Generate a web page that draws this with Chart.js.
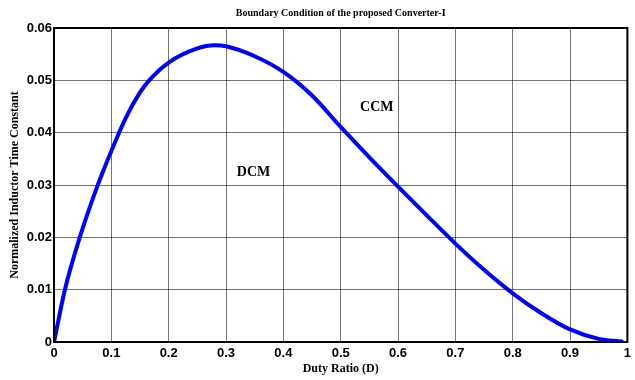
<!DOCTYPE html>
<html>
<head>
<meta charset="utf-8">
<script src="https://cdn.jsdelivr.net/npm/chart.js@4"></script>
<style>
  html, body { margin: 0; padding: 0; background: #fff; }
  #wrap { width: 635px; height: 380px; }
</style>
</head>
<body>
<div id="wrap"><canvas id="chart" width="635" height="380"></canvas></div>
<script>
// values
const dutyRatio = [0, 0.019, 0.045, 0.074, 0.1, 0.125, 0.15, 0.166, 0.2, 0.25, 0.28, 0.3, 0.35, 0.4, 0.45, 0.5,
    0.55, 0.6, 0.65, 0.7, 0.75, 0.8, 0.85, 0.9, 0.95, 0.99];
const timeConstant = [0, 0.010, 0.020, 0.0293, 0.0365, 0.0428, 0.0477, 0.0500, 0.0534, 0.0561, 0.0567, 0.0565, 0.0546, 0.0516, 0.0471, 0.0411,
    0.0353, 0.0297, 0.0242, 0.0188, 0.0138, 0.0093, 0.0055, 0.0024, 0.0006, 0.0001];
const regionLabels = ['DCM', 'CCM'];
const regionX = [0.348, 0.563];
const regionY = [0.0324, 0.0449];

const serif = "'Liberation Serif', 'Times New Roman', serif";
const sans = "'Liberation Sans', Arial, sans-serif";

// title, region labels and the box round the plot
const extrasPlugin = {
    id: 'extras',
    afterDraw(chart) {
        const { ctx, chartArea, scales } = chart;
        ctx.save();
        ctx.fillStyle = '#000';
        ctx.textAlign = 'center';
        ctx.textBaseline = 'middle';
        ctx.font = 'bold 10px ' + serif;
        ctx.fillText('Boundary Condition of the proposed Converter-I', (chartArea.left + chartArea.right) / 2, 13);

        ctx.font = 'bold 14px ' + serif;
        regionLabels.forEach((txt, i) => {
            ctx.fillText(txt, scales.x.getPixelForValue(regionX[i]), scales.y.getPixelForValue(regionY[i]));
        });

        ctx.strokeStyle = '#000';
        ctx.lineWidth = 2;
        ctx.strokeRect(chartArea.left, chartArea.top, chartArea.right - chartArea.left, chartArea.bottom - chartArea.top);
        ctx.restore();
    }
};

const gridStyle = {
    color: 'rgba(0,0,0,0.55)',
    lineWidth: 1,
    drawTicks: false
};

new Chart(document.getElementById('chart'), {
    type: 'line',
    data: {
        datasets: [{
            data: dutyRatio.map((d, i) => ({ x: d, y: timeConstant[i] })),
            borderColor: '#0000ff',
            borderWidth: 4,
            pointRadius: 0,
            fill: false,
            cubicInterpolationMode: 'monotone',
            borderCapStyle: 'round'
        }]
    },
    options: {
        responsive: false,
        animation: false,
        layout: { padding: { top: 28, right: 3, left: 0, bottom: 0 } },
        plugins: { legend: { display: false }, tooltip: { enabled: false } },
        scales: {
            x: {
                type: 'linear',
                min: 0,
                max: 1,
                grid: { ...gridStyle },
                border: { display: false },
                ticks: {
                    stepSize: 0.1,
                    padding: 4,
                    color: '#000',
                    font: { family: sans, size: 13, weight: 'bold' },
                    callback: v => String(parseFloat(v.toFixed(1)))
                },
                title: {
                    display: true,
                    text: 'Duty Ratio (D)',
                    color: '#000',
                    font: { family: serif, size: 12, weight: 'bold' },
                    padding: { top: 0, bottom: 4 }
                },
                afterFit: s => { s.height = 38; }
            },
            y: {
                min: 0,
                max: 0.06,
                grid: { ...gridStyle },
                border: { display: false },
                ticks: {
                    stepSize: 0.01,
                    padding: 2,
                    color: '#000',
                    font: { family: sans, size: 13, weight: 'bold' },
                    callback: v => v === 0 ? '0' : v.toFixed(2)
                },
                title: {
                    display: true,
                    text: 'Normalized Inductor Time Constant',
                    color: '#000',
                    font: { family: serif, size: 12, weight: 'bold' },
                    padding: { top: 8, bottom: 0 }
                },
                afterFit: s => { s.width = 54; }
            }
        }
    },
    plugins: [extrasPlugin]
});
</script>
</body>
</html>
